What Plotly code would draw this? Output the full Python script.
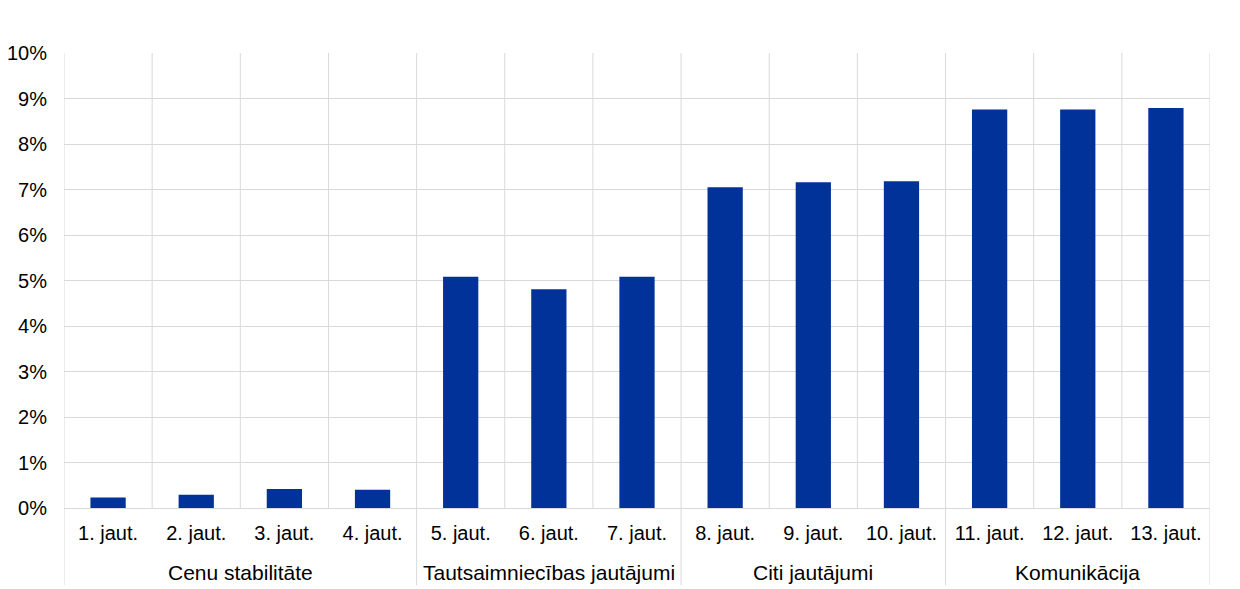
import plotly.graph_objects as go

categories = ["1. jaut.", "2. jaut.", "3. jaut.", "4. jaut.", "5. jaut.", "6. jaut.", "7. jaut.",
              "8. jaut.", "9. jaut.", "10. jaut.", "11. jaut.", "12. jaut.", "13. jaut."]
values = [0.23, 0.29, 0.42, 0.40, 5.08, 4.81, 5.08, 7.05, 7.16, 7.18, 8.76, 8.76, 8.79]
groups = ["Cenu stabilitāte", "Tautsaimniecības jautājumi", "Citi jautājumi", "Komunikācija"]
group_sizes = [4, 3, 3, 3]
y_ticks = list(range(0, 11))
y_ticktext = [f"{v}%" for v in y_ticks]

FONT = "Liberation Sans, Arial, sans-serif"
GRID = "#d9d9d9"

x = list(range(len(categories)))
fig = go.Figure(go.Bar(x=x, y=values, marker=dict(color="#003299", line=dict(width=0)), width=0.4))

shapes = []
for i in range(len(categories) + 1):
    shapes.append(dict(type="line", xref="x", yref="paper", x0=i - 0.5, x1=i - 0.5, y0=0, y1=1,
                       line=dict(color=GRID, width=1), layer="below"))
b = -0.5
bounds = [b]
for s in group_sizes:
    b += s
    bounds.append(b)
for bx in bounds:
    shapes.append(dict(type="line", xref="x", yref="paper", x0=bx, x1=bx, y0=-0.17, y1=0,
                       line=dict(color=GRID, width=1)))

annotations = []
for g, s0, s1 in zip(groups, bounds[:-1], bounds[1:]):
    annotations.append(dict(text=g, x=(s0 + s1) / 2, xref="x", y=-0.141, yref="paper",
                            showarrow=False, yanchor="middle", xanchor="center",
                            font=dict(family=FONT, size=21, color="#000000")))

fig.update_layout(
    width=1232, height=581,
    margin=dict(l=56, r=30, t=45, b=81),
    paper_bgcolor="white", plot_bgcolor="white",
    showlegend=False,
    shapes=shapes, annotations=annotations,
    xaxis=dict(range=[-0.5, len(categories) - 0.5], tickvals=x, ticktext=categories,
               showgrid=False, zeroline=False, showline=True, linecolor=GRID, linewidth=1,
               ticks="", ticklabelstandoff=7, automargin=False,
               tickfont=dict(family=FONT, size=20, color="#000000")),
    yaxis=dict(range=[0, 10], tickvals=y_ticks, ticktext=y_ticktext, showgrid=True,
               gridcolor=GRID, gridwidth=1, zeroline=False, showline=False,
               ticks="", ticklabelstandoff=16, automargin=False,
               tickfont=dict(family=FONT, size=20, color="#000000")),
)

fig.write_html("out.html")
